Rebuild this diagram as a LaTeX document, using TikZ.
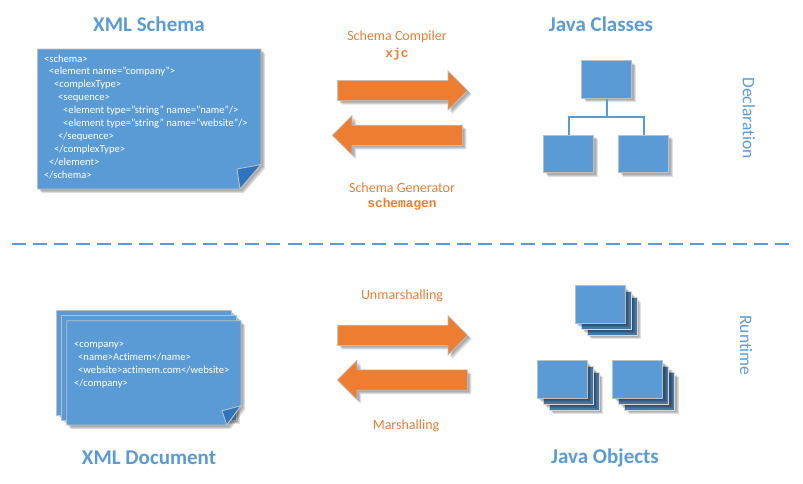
\documentclass[tikz,border=0pt]{standalone}
\usepackage{fontspec}
\setmainfont{Carlito}[Ligatures=NoCommon]
\setmonofont{Liberation Mono}
\usetikzlibrary{calc}
\usetikzlibrary{shadows}
\usetikzlibrary{shapes.arrows}
\definecolor{sheetblue}{HTML}{5B9BD5}
\definecolor{foldblue}{HTML}{2E75C0}
\definecolor{backblue}{HTML}{4676A3}
\definecolor{flow}{HTML}{ED7D31}
\tikzset{softshadow/.style={drop shadow={shadow xshift=2pt,shadow yshift=-2pt,fill=black,opacity=0.12},drop shadow={shadow xshift=3pt,shadow yshift=-3pt,fill=black,opacity=0.12},drop shadow={shadow xshift=4pt,shadow yshift=-4pt,fill=black,opacity=0.12}}}
\tikzset{sheet/.style={fill=sheetblue,draw=black!25,line width=0.9pt,softshadow}}
\tikzset{fold/.style={fill=foldblue,draw=black!25,line width=0.9pt}}
\tikzset{box/.style={rectangle,fill=sheetblue,draw=black!25,line width=0.9pt,inner sep=0pt,minimum width=50pt,minimum height=37.5pt,softshadow}}
\tikzset{backbox/.style={box,fill=backblue,draw=black!15}}
\tikzset{title/.style={text=sheetblue,font=\fontsize{21}{23}\selectfont\bfseries}}
\tikzset{side/.style={text=sheetblue,font=\fontsize{17.5}{19}\selectfont,rotate=-90}}
\tikzset{flowtext/.style={text=flow,font=\fontsize{14}{16}\selectfont}}
\tikzset{flowcode/.style={text=flow,font=\fontsize{12.8}{14}\selectfont\ttfamily\bfseries}}
\tikzset{code/.style={text=white,font=\fontsize{10.6}{12.9}\selectfont,align=left,anchor=north west,inner sep=0pt}}
\tikzset{flowarrow/.style={single arrow,anchor=tail,fill=flow,draw=black!25,line width=0.7pt,inner xsep=0pt,inner ysep=9.8pt,minimum height=130pt,single arrow head extend=9.5pt,single arrow head indent=0pt,softshadow}}
\tikzset{link/.style={draw=sheetblue,line width=2pt}}

\begin{document}
\begin{tikzpicture}[x=1pt,y=-1pt]
\useasboundingbox (0,0) rectangle (803,483);

\node[title] (schematitle) at (149,24.5) {XML Schema};
\node[title] (classtitle) at (601,24.5) {Java Classes};
\node[title] (doctitle) at (149,458) {XML Document};
\node[title] (objtitle) at (605,458) {Java Objects};

% schema sheet
\draw[sheet] (37.5,49) -- (261,49) -- (261,164.5) -- (240,189) -- (37.5,189) -- cycle;
\draw[fold] (237,169) -- (261,164.5) -- (240,189) -- cycle;
\node[code] (schematext) at (44,54.5) {\char`\<schema\char`\>\\
\hspace*{5pt}\char`\<element name="company"\char`\>\\
\hspace*{10pt}\char`\<complexType\char`\>\\
\hspace*{14pt}\char`\<sequence\char`\>\\
\hspace*{19pt}\char`\<element type="string" name="name"/\char`\>\\
\hspace*{19pt}\char`\<element type="string" name="website"/\char`\>\\
\hspace*{14pt}\char`\</sequence\char`\>\\
\hspace*{10pt}\char`\</complexType\char`\>\\
\hspace*{5pt}\char`\</element\char`\>\\
\char`\</schema\char`\>};

% document sheets
\foreach \i in {0,1}
 {
 \draw[sheet] ($(56.7,310)+(5*\i,5*\i)$) rectangle ($(231,415)+(5*\i,5*\i)$);
 }
\draw[sheet] (66.7,320.7) -- (241,320.7) -- (241,405.7) -- (226.7,425) -- (66.7,425) -- cycle;
\draw[fold] (222,410.7) -- (241,405.7) -- (226.7,425) -- cycle;
\node[code] (doctext) at (74,342) {\char`\<company\char`\>\\
\hspace*{4pt}\char`\<name\char`\>Actimem\char`\</name\char`\>\\
\hspace*{4pt}\char`\<website\char`\>actimem.com\char`\</website\char`\>\\
\char`\</company\char`\>};

% arrows
\node[flowarrow] (compile) at (337.3,90.5) {};
\node[flowarrow,shape border rotate=180] (generate) at (462.7,135.3) {};
\node[flowarrow] (unmarshal) at (337.3,335.3) {};
\node[flowarrow,shape border rotate=180] (marshal) at (467.7,380) {};

\node[flowtext] (compiler) at (397,37) {Schema Compiler};
\node[flowcode] (xjc) at (397,54.5) {xjc};
\node[flowtext] (generator) at (402,188) {Schema Generator};
\node[flowcode] (schemagen) at (402,204) {schemagen};
\node[flowtext] (unmarshalling) at (402,295.5) {Unmarshalling};
\node[flowtext] (marshalling) at (406,425.5) {Marshalling};

% class tree
\node[box] (parent) at (606.5,79.5) {};
\node[box] (childa) at (568.5,154) {};
\node[box] (childb) at (643.5,154) {};
\coordinate (joint) at ($(parent.south)+(0,18.5)$);
\draw[link] (parent) -- (joint);
\foreach \c in {childa,childb}
 {
 \draw[link] (joint) -| (\c.north);
 }

% object stacks
\foreach \n/\x/\y in {objtop/600.3/304.5,objleft/562.3/379.5,objright/637.7/379.5}
 {
 \node[backbox] (\n b) at (\x+12,\y+12) {};
 \node[backbox] (\n m) at (\x+6,\y+6) {};
 \node[box] (\n) at (\x,\y) {};
 }

\coordinate (dashstart) at (12,244.3);
\coordinate (dashend) at (790,244.3);
\draw[draw=sheetblue,line width=1.8pt,dash pattern=on 14pt off 7.2pt] (dashstart) -- (dashend);

\node[side] (declaration) at (749,118) {Declaration};
\node[side] (runtime) at (746,345.5) {Runtime};

\end{tikzpicture}
\end{document}
